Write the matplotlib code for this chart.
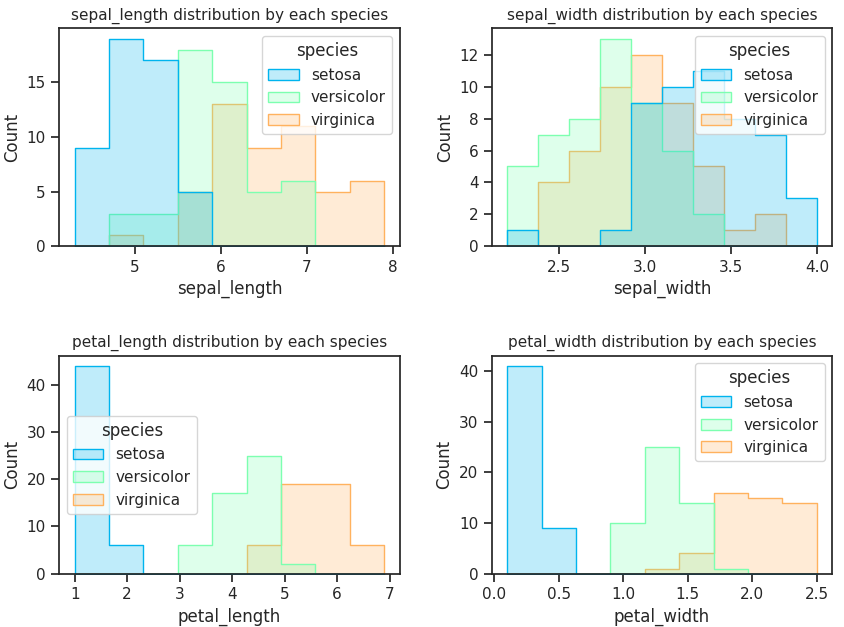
import numpy as np
import pandas as pd
import matplotlib as mpl
mpl.use("Agg")
import matplotlib.pyplot as plt
import seaborn as sns

SPECIES = ["setosa", "versicolor", "virginica"]
COLORS = ["#00b4ee", "#7dffb0", "#ffb25e"]

# bin edges and per-species counts
SL_EDGES = np.linspace(4.3, 7.9, 10)
SL_COUNTS = {"setosa": [9, 19, 17, 5, 0, 0, 0, 0, 0],
             "versicolor": [0, 3, 3, 18, 15, 5, 6, 0, 0],
             "virginica": [0, 1, 0, 5, 13, 9, 11, 5, 6]}
SW_EDGES = np.linspace(2.2, 4.0, 11)
SW_COUNTS = {"setosa": [1, 0, 0, 1, 9, 10, 11, 8, 7, 3],
             "versicolor": [5, 7, 8, 13, 9, 6, 2, 0, 0, 0],
             "virginica": [0, 4, 6, 10, 12, 9, 5, 1, 2, 0]}
PL_EDGES = np.linspace(1.0, 6.9, 10)
PL_COUNTS = {"setosa": [44, 6, 0, 0, 0, 0, 0, 0, 0],
             "versicolor": [0, 0, 0, 6, 17, 25, 2, 0, 0],
             "virginica": [0, 0, 0, 0, 0, 6, 19, 19, 6]}
PW_EDGES = np.linspace(0.1, 2.5, 10)
PW_COUNTS = {"setosa": [41, 9, 0, 0, 0, 0, 0, 0, 0],
             "versicolor": [0, 0, 0, 10, 25, 14, 1, 0, 0],
             "virginica": [0, 0, 0, 0, 1, 4, 16, 15, 14]}

PANELS = [("sepal_length", SL_EDGES, SL_COUNTS, "upper right", [0, 5, 10, 15]),
          ("sepal_width", SW_EDGES, SW_COUNTS, "upper right", [0, 2, 4, 6, 8, 10, 12]),
          ("petal_length", PL_EDGES, PL_COUNTS, "center left", [0, 10, 20, 30, 40]),
          ("petal_width", PW_EDGES, PW_COUNTS, "upper right", [0, 10, 20, 30, 40])]

sns.set_theme(style="ticks")
fig, axes = plt.subplots(2, 2, figsize=(8.45, 6.27))
for ax, (name, edges, counts, loc, yt) in zip(axes.flat, PANELS):
    centers = (edges[:-1] + edges[1:]) / 2
    rows = []
    for sp in SPECIES:
        for c, w in zip(centers, counts[sp]):
            rows.append({name: c, "w": w, "species": sp})
    df = pd.DataFrame(rows)
    sns.histplot(data=df, x=name, weights="w", hue="species", hue_order=SPECIES,
                 bins=[float(e) for e in edges], element="step",
                 palette=COLORS, alpha=0.25, ax=ax)
    sns.move_legend(ax, loc)
    ax.set_ylabel("Count")
    ax.set_yticks(yt)
    ax.set_title(f"{name} distribution by each species", fontsize=11)
axes[0, 1].set_xticks([2.5, 3.0, 3.5, 4.0])
axes[1, 1].set_xticks([0.0, 0.5, 1.0, 1.5, 2.0, 2.5])
axes[1, 1].set_xlim(-0.02, 2.62)
fig.subplots_adjust(left=0.07, right=0.985, top=0.955, bottom=0.085, hspace=0.5, wspace=0.27)
fig.savefig("out.png", dpi=100)
